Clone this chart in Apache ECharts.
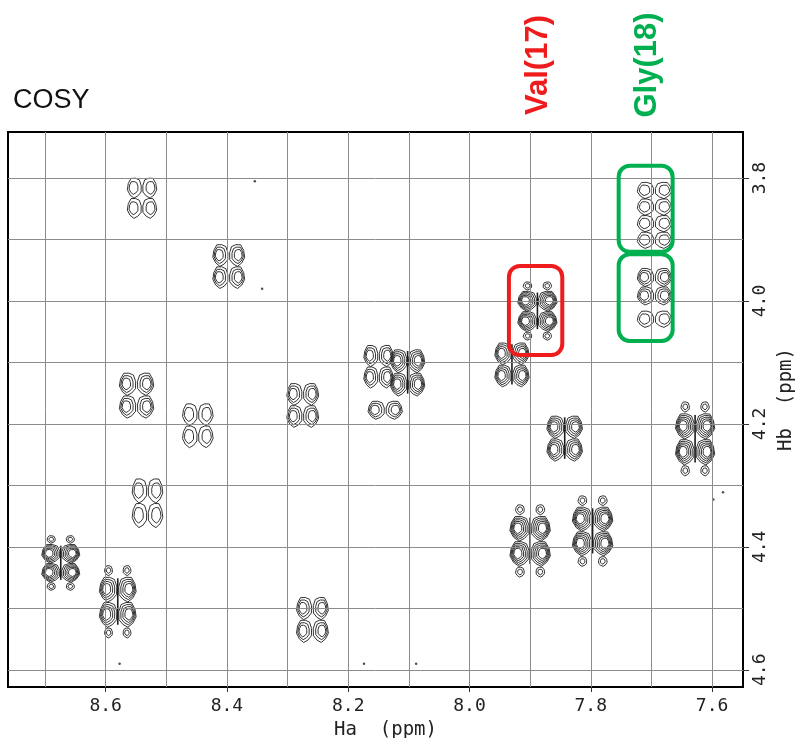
<!DOCTYPE html>
<html>
<head>
<meta charset="utf-8">
<script src="https://cdn.jsdelivr.net/npm/echarts@6/dist/echarts.min.js"></script>
<style>html,body{margin:0;padding:0;background:#fff}#c{width:797px;height:738px}</style>
</head>
<body>
<div id="c"></div>
<script>
// ---- data (ppm) ----
const haTicks = [7.6, 7.8, 8.0, 8.2, 8.4, 8.6];
const hbTicks = [3.8, 4.0, 4.2, 4.4, 4.6];
const haGrid = [7.6, 7.7, 7.8, 7.9, 8.0, 8.1, 8.2, 8.3, 8.4, 8.5, 8.6, 8.7];
const hbGrid = [3.8, 3.9, 4.0, 4.1, 4.2, 4.3, 4.4, 4.5, 4.6];

// cross-peak centres
const peakHa = [8.540, 8.397, 8.549, 8.448, 8.275, 8.150, 8.102, 8.139, 7.930, 7.888, 7.695, 7.695, 7.695, 7.843, 7.628, 8.531, 8.674, 8.580, 8.259, 7.900, 7.797];
const peakHb = [3.832, 3.943, 4.153, 4.202, 4.169, 4.106, 4.116, 4.177, 4.103, 4.016, 3.860, 3.976, 4.029, 4.223, 4.224, 4.328, 4.426, 4.489, 4.518, 4.390, 4.374];
// splitting between multiplet components (ppm)
const peakSplitHa = [0.024, 0.026, 0.028, 0.025, 0.026, 0.024, 0.028, 0.028, 0.028, 0.032, 0.028, 0.028, 0.028, 0.029, 0.032, 0.025, 0.031, 0.030, 0.026, 0.033, 0.033];
const peakSplitHb = [0.033, 0.036, 0.037, 0.036, 0.036, 0.035, 0.038, 0.030, 0.036, 0.033, 0.027, 0.030, 0.027, 0.037, 0.042, 0.040, 0.031, 0.041, 0.037, 0.041, 0.040];
const peakRows = [2, 2, 2, 2, 2, 2, 2, 1, 2, 2, 4, 2, 1, 2, 2, 2, 2, 2, 2, 2, 2];
const peakLevels = [2, 3, 3, 2, 3, 3, 4, 3, 4, 5, 2, 3, 2, 4, 5, 2, 5, 4, 3, 5, 5];
const peakOuter = [0, 0, 0, 0, 0, 0, 0, 0, 0, 1, 0, 0, 0, 0, 1, 0, 1, 1, 0, 1, 1];

// isolated noise points
const dotHa = [8.354, 8.342, 8.577, 8.174, 8.088, 7.582, 7.598];
const dotHb = [3.805, 3.980, 4.590, 4.590, 4.590, 4.311, 4.323];

// highlighted regions
const valBoxHa = [[7.935, 7.847]];
const valBoxHb = [[3.943, 4.088]];
const glyBoxHa = [[7.754, 7.665], [7.754, 7.665]];
const glyBoxHb = [[3.780, 3.920], [3.924, 4.065]];

// ---- build ----
const peakData = peakHa.map((v, i) => [v, peakHb[i], peakSplitHa[i], peakSplitHb[i], peakRows[i], peakLevels[i], peakOuter[i]]);
const dotData = dotHa.map((v, i) => [v, dotHb[i]]);
const valBoxes = valBoxHa.map((h, i) => [h[0], valBoxHb[i][0], h[1], valBoxHb[i][1]]);
const glyBoxes = glyBoxHa.map((h, i) => [h[0], glyBoxHb[i][0], h[1], glyBoxHb[i][1]]);

const RM = [1, 0.93, 0.99, 0.9, 1, 0.95, 0.98, 0.89, 1, 0.94];
function contour(cx, cy, a, b, side) {
  const pts = [];
  for (let j = 0; j < 10; j++) {
    const th = j * Math.PI * 2 / 10 + 0.2;
    let dx = Math.cos(th) * a * RM[j];
    const dy = Math.sin(th) * b * RM[j];
    if (dx < 0) dx *= 0.92;
    pts.push([cx + side * dx, cy + dy]);
  }
  return pts;
}
const lineStyle = { fill: 'none', stroke: '#1c1c1c', lineWidth: 0.9 };

function renderPeak(params, api) {
  const c = api.coord([api.value(0), api.value(1)]);
  const sz = api.size([api.value(2), api.value(3)]);
  const px = sz[0], py = sz[1];
  const rows = api.value(4), lev = api.value(5), outer = api.value(6);
  const a = px * 0.5 * 1.04, b = py * 0.5 * 1.05;
  const children = [];
  [-1, 1].forEach(side => {
    const lx = c[0] + side * px / 2;
    for (let i = 0; i < rows; i++) {
      const ly = c[1] + (i - (rows - 1) / 2) * py;
      for (let k = 0; k < lev; k++) {
        const s = 1 - k * 0.72 / lev;
        const ox = side * a * (1 - s) * 0.35;
        children.push({ type: 'polygon', shape: { points: contour(lx + ox, ly, a * s, b * s, side) }, style: lineStyle, silent: true });
      }
    }
    if (outer) {
      const top = c[1] - (rows / 2) * py - b * 0.45;
      const bot = c[1] + (rows / 2) * py + b * 0.45;
      [top, bot].forEach(y => {
        children.push({ type: 'polygon', shape: { points: contour(lx, y, a * 0.45, b * 0.4, side) }, style: lineStyle, silent: true });
        children.push({ type: 'polygon', shape: { points: contour(lx, y, a * 0.25, b * 0.22, side) }, style: lineStyle, silent: true });
      });
    }
  });
  if (lev >= 4) {
    children.push({ type: 'line', shape: { x1: c[0], y1: c[1] - rows * py / 2 + 2, x2: c[0], y2: c[1] + rows * py / 2 - 2 }, style: { stroke: '#1c1c1c', lineWidth: 1.6 }, silent: true });
  }
  return { type: 'group', children };
}

function boxRenderer(color) {
  return function (params, api) {
    const p1 = api.coord([api.value(0), api.value(1)]);
    const p2 = api.coord([api.value(2), api.value(3)]);
    const x = Math.min(p1[0], p2[0]), y = Math.min(p1[1], p2[1]);
    return {
      type: 'rect',
      shape: { x, y, width: Math.abs(p2[0] - p1[0]), height: Math.abs(p2[1] - p1[1]), r: 11 },
      style: { fill: 'none', stroke: color, lineWidth: 4 },
      silent: true
    };
  };
}

const mono = 'DejaVu Sans Mono';
const chart = echarts.init(document.getElementById('c'), null, { renderer: 'canvas' });
chart.setOption({
  animation: false,
  backgroundColor: '#fff',
  title: {
    text: 'COSY', left: 8, top: 82,
    textStyle: { fontFamily: 'Liberation Sans', fontSize: 27, fontWeight: 'normal', color: '#111' }
  },
  grid: { left: 8, right: 54, top: 132, bottom: 51, show: true, borderColor: '#000', borderWidth: 2, backgroundColor: '#fff', containLabel: false, outerBoundsMode: 'none' },
  xAxis: {
    type: 'value', inverse: true, min: 7.549, max: 8.761, position: 'bottom',
    name: 'Ha  (ppm)', nameLocation: 'middle', nameGap: 34,
    nameTextStyle: { fontFamily: mono, fontSize: 19, color: '#222', padding: [0, 0, 0, 20] },
    axisLine: { show: true, lineStyle: { color: '#000', width: 2 } },
    axisTick: { show: true, customValues: haTicks, length: 5, lineStyle: { color: '#333' } },
    axisLabel: { customValues: haTicks, formatter: v => v.toFixed(1), fontFamily: mono, fontSize: 18, color: '#222', margin: 10 },
    splitLine: { show: false }
  },
  yAxis: {
    type: 'value', inverse: true, min: 3.725, max: 4.628, position: 'right',
    name: 'Hb  (ppm)', nameLocation: 'middle', nameGap: 28, nameRotate: 90,
    nameTextStyle: { fontFamily: mono, fontSize: 19, color: '#222', padding: [0, 0, 0, 20] },
    axisLine: { show: true, lineStyle: { color: '#000', width: 2 } },
    axisTick: { show: true, customValues: hbTicks, length: 6, lineStyle: { color: '#333' } },
    axisLabel: { customValues: hbTicks, formatter: v => v.toFixed(1), rotate: 90, fontFamily: mono, fontSize: 18, color: '#222', margin: 8 },
    splitLine: { show: false }
  },
  graphic: [
    { type: 'text', x: 538, y: 65, rotation: Math.PI / 2, style: { text: 'Val(17)', fill: '#ee1c1c', font: 'bold 31px "Liberation Sans"', align: 'center', verticalAlign: 'middle' }, z: 10 },
    { type: 'text', x: 647, y: 65, rotation: Math.PI / 2, style: { text: 'Gly(18)', fill: '#00b050', font: 'bold 31px "Liberation Sans"', align: 'center', verticalAlign: 'middle' }, z: 10 }
  ],
  series: [
    {
      type: 'scatter', data: dotData, symbol: 'circle', symbolSize: 2.5, z: 2,
      itemStyle: { color: '#222' }, silent: true,
      markLine: {
        silent: true, symbol: 'none', label: { show: false },
        lineStyle: { color: '#8c8c8c', width: 1, type: 'solid' },
        data: haGrid.map(v => ({ xAxis: v })).concat(hbGrid.map(v => ({ yAxis: v })))
      }
    },
    { type: 'custom', renderItem: renderPeak, data: peakData, encode: { x: 0, y: 1 }, z: 3, silent: true },
    { type: 'custom', renderItem: boxRenderer('#ee1c1c'), data: valBoxes, encode: { x: [0, 2], y: [1, 3] }, z: 5, clip: false, silent: true },
    { type: 'custom', renderItem: boxRenderer('#00b050'), data: glyBoxes, encode: { x: [0, 2], y: [1, 3] }, z: 5, clip: false, silent: true }
  ]
});
</script>
</body>
</html>
